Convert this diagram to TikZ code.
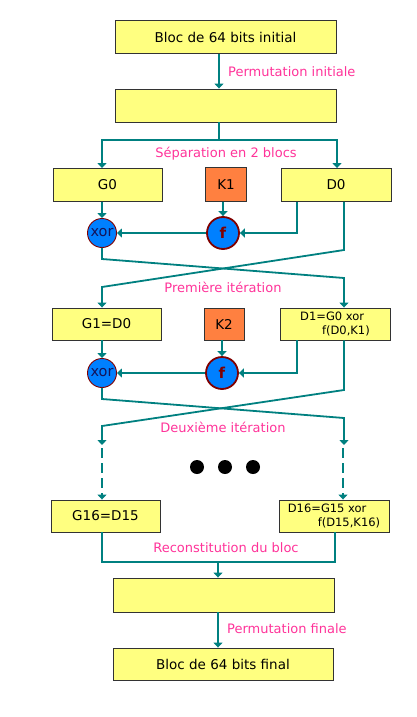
\documentclass[tikz,border=0pt]{standalone}
\usepackage{fontspec}
\setmainfont{DejaVu Sans}
\usepackage{tikz}
\usetikzlibrary{arrows.meta}
\definecolor{sarcelle}{RGB}{0,128,128}
\definecolor{jaune}{RGB}{255,255,128}
\definecolor{korange}{RGB}{255,128,64}
\definecolor{rose}{RGB}{255,51,153}
\definecolor{bleu}{RGB}{0,128,255}
\definecolor{bordeaux}{RGB}{128,0,0}
\definecolor{marine}{RGB}{20,20,90}
\newcommand{\grand}{\fontsize{13.5}{16}\selectfont}
\newcommand{\petit}{\fontsize{11.5}{14.5}\selectfont}

\begin{document}
\begin{tikzpicture}[x=1pt,y=-1pt,
  boite/.style={draw=black!80,line width=0.9pt,fill=jaune,inner sep=0pt,minimum height=33pt,font=\grand},
  cle/.style={boite,fill=korange,minimum width=41pt,minimum height=34pt},
  ou/.style={circle,draw=bordeaux,line width=0.9pt,fill=bleu,inner sep=0pt,minimum size=29pt,text=marine,font=\fontsize{14.5}{16}\selectfont},
  fonc/.style={circle,draw=bordeaux,line width=1.8pt,fill=bleu,inner sep=0pt,minimum size=32pt,text=bordeaux,font=\fontsize{15}{16}\selectfont\bfseries},
  etiq/.style={text=rose,inner sep=0pt,font=\fontsize{13}{15}\selectfont},
  point/.style={fill,circle,inner sep=0pt,minimum size=14pt},
  trait/.style={sarcelle,line width=1.8pt},
  fleche/.style={trait,-{Triangle[length=5pt,width=9pt]}}]
\useasboundingbox (0,0) rectangle (416,717);

  % colonnes
  \coordinate (axe) at (219,0);
  \coordinate (cg) at (102,0);
  \coordinate (cd) at (337,0);
  \coordinate (ci) at (297,0);
  \coordinate (cx) at (344,0);
  \coordinate (cr) at (335,0);

  \node (bloc) at (225.5,37) [boite,minimum width=221pt] {Bloc de 64 bits initial};
  \node (perm) at (225.5,105.5) [boite,minimum width=221pt] {};

  \node (g0) at (107.5,185) [boite,minimum width=109pt] {G0};
  \node (k1) at (226,184.5) [cle] {K1};
  \node (d0) at (336,185) [boite,minimum width=110pt] {D0};
  \node (xor1) at (102,233) [ou] {xor};
  \node (f1) at (223,233) [fonc] {f};

  \node (g1) at (106.5,324) [boite,minimum width=109pt,minimum height=32pt] {G1=D0};
  \node (k2) at (224,324) [cle,minimum width=40pt,minimum height=32pt] {K2};
  \node (d1) at (335,324) [boite,minimum width=110pt,minimum height=32pt,font=\petit,align=left]
    {D1=G0 xor\\\hspace*{1.9em}f(D0,K1)};
  \node (xor2) at (102,373) [ou] {xor};
  \node (f2) at (222,373) [fonc] {f};

  \node (pt1) at (197,467) [point] {};
  \node (pt2) at (225,467) [point] {};
  \node (pt3) at (253,467) [point] {};

  \node (g16) at (105.5,516) [boite,minimum width=109pt,minimum height=32pt] {G16=D15};
  \node (d16) at (334,516) [boite,minimum width=110pt,minimum height=32pt,font=\petit,align=left]
    {D16=G15 xor\\\hspace*{2.6em}f(D15,K16)};

  \node (recon) at (223.5,595) [boite,minimum width=221pt,minimum height=34pt] {};
  \node (final) at (223,664) [boite,minimum width=220pt,minimum height=32pt] {Bloc de 64 bits final};

  \node (lperm) at (228,72) [etiq,anchor=west] {Permutation initiale};
  \node (lsep) at (226,154) [etiq] {Séparation en 2 blocs};
  \node (lit1) at (223,287) [etiq] {Première itération};
  \node (lit2) at (223,427) [etiq] {Deuxième itération};
  \node (lrec) at (226,548) [etiq] {Reconstitution du bloc};
  \node (lfin) at (227,629) [etiq,anchor=west] {Permutation finale};

  % permutation et separation
  \coordinate (sep) at (219,140);
  \draw [fleche] (bloc.south -| axe) to (perm.north -| axe);
  \draw [trait] (perm.south -| axe) to (sep);
  \draw [fleche] (sep) -| (g0.north -| cg);
  \draw [fleche] (sep) -| (d0.north -| cd);

  % premier tour
  \coordinate (x1a) at (102,259);
  \coordinate (x1b) at (344,278);
  \coordinate (d0a) at (344,250);
  \coordinate (d0b) at (102,287);
  \draw [fleche] (g0.south -| cg) to (xor1);
  \draw [fleche] (k1.south -| f1) to (f1);
  \draw [fleche] (d0.south -| ci) |- (f1);
  \draw [fleche] (f1) to (xor1);
  \draw [fleche] (xor1) to (x1a) to (x1b) to (d1.north -| x1b);
  \draw [fleche] (d0.south -| cx) to (d0a) to (d0b) to (g1.north -| d0b);

  % second tour
  \coordinate (x2a) at (102,399);
  \coordinate (x2b) at (344,418);
  \coordinate (x2c) at (344,445);
  \coordinate (d1a) at (344,390);
  \coordinate (d1b) at (102,426);
  \coordinate (d1c) at (102,445);
  \draw [fleche] (g1.south -| cg) to (xor2);
  \draw [fleche] (k2.south -| f2) to (f2);
  \draw [fleche] (d1.south -| ci) |- (f2);
  \draw [fleche] (f2) to (xor2);
  \draw [fleche] (xor2) to (x2a) to (x2b) to (x2c);
  \draw [fleche] (d1.south -| cx) to (d1a) to (d1b) to (d1c);

  % tours suivants
  \coordinate (p1) at (102,448);
  \coordinate (p2) at (343,448);
  \draw [fleche,dash pattern=on 10pt off 5pt] (p1) to (g16.north -| p1);
  \draw [fleche,dash pattern=on 10pt off 5pt] (p2) to (d16.north -| p2);

  % reconstitution
  \coordinate (rec) at (218,562);
  \draw [trait] (g16.south -| cg) |- (rec) -| (d16.south -| cr);
  \draw [fleche] (rec) to (recon.north -| rec);
  \draw [fleche] (recon.south -| rec) to (final.north -| rec);

\end{tikzpicture}
\end{document}
